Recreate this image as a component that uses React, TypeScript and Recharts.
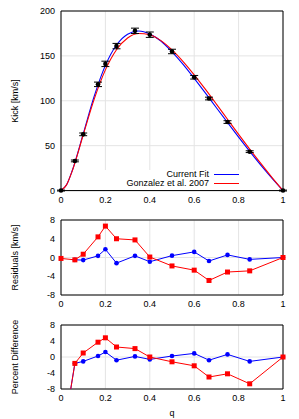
import React from "react";
import {
  ComposedChart,
  Line,
  Scatter,
  ErrorBar,
  CartesianGrid,
  XAxis,
  YAxis,
  ReferenceArea
} from "recharts";

// model curves, sampled on qGrid
const qGrid = [0, 0.025, 0.05, 0.1, 0.15, 0.2, 0.25, 0.3, 0.35, 0.4, 0.45, 0.5, 0.55, 0.6, 0.65, 0.7, 0.75, 0.8, 0.85, 0.9, 0.95, 1];
const fitKick = [0, 6.4, 21.8, 63.1, 105.4, 139.4, 162.1, 174.2, 177.8, 174.5, 166.6, 154.5, 140.6, 125.0, 108.8, 92.2, 75.8, 59.5, 43.7, 28.4, 13.9, 0];
const gonzalezKick = [0, 6.3, 21.4, 61.9, 102.1, 134.4, 156.9, 170.0, 175.0, 173.5, 167.0, 156.7, 143.7, 128.9, 112.9, 96.3, 79.4, 62.6, 46.2, 30.2, 14.7, 0];

// simulation points
const qSim = [0, 0.0625, 0.1, 0.1667, 0.2, 0.25, 0.3333, 0.4, 0.5, 0.6, 0.6667, 0.75, 0.85, 1];
const simKick = [0, 33, 62.6, 118.3, 141.1, 160.9, 177.9, 173.6, 154.9, 126.2, 102.5, 76.3, 43.3, 0];
const simErr = [0.5, 1, 1.5, 2.5, 3, 3, 3, 3, 2.5, 2, 1.5, 1.5, 1, 0.5];

// residuals [km/s]
const qResFit = [0.0625, 0.1, 0.1667, 0.2, 0.25, 0.3333, 0.4, 0.5, 0.6, 0.6667, 0.75, 0.85, 1];
const resFit = [-0.5, -0.55, 0.35, 1.75, -1.2, 0.35, -0.9, 0.4, 1.2, -0.75, 0.55, -0.4, 0];
const resGonzalez = [-0.2, -0.5, 0.7, 4.4, 6.7, 4.0, 3.75, 0.1, -1.8, -2.7, -4.9, -3.1, -2.85, 0];

// percent difference
const pctFit = [-23, -1.6, -1.1, 0.25, 1.25, -0.8, 0.15, -0.6, 0.25, 0.9, -0.8, 0.65, -1.1, 0];
const pctGonzalez = [-23, -1.6, 1.0, 3.7, 4.8, 2.5, 2.1, 0, -1.2, -2.2, -5.0, -4.2, -6.7, 0];

const qTicks = [0, 0.2, 0.4, 0.6, 0.8, 1];
const kickTicks = [0, 50, 100, 150, 200];
const resTicks = [-8, -4, 0, 4, 8];

const BLUE = "#0000ff";
const RED = "#ff0000";
const GRID = "#e4e4e4";
const FONT = "'Liberation Sans', Arial, sans-serif";
const tickStyle = { fill: "#000", fontSize: 9, fontFamily: FONT };

const zip = (xs: number[], ys: number[]) => xs.map((q, i) => ({ q, v: ys[i] }));

const fitData = zip(qGrid, fitKick);
const gonzalezData = zip(qGrid, gonzalezKick);
const simData = qSim.map((q, i) => ({ q, v: simKick[i], err: simErr[i] }));
const resFitData = zip(qResFit, resFit);
const resGonzalezData = zip(qSim, resGonzalez);
const pctFitData = zip(qSim, pctFit);
const pctGonzalezData = zip(qSim, pctGonzalez);

function SideLabel(props: any) {
  const { viewBox, text } = props;
  const cy = viewBox.y + viewBox.height / 2;
  return (
    <text
      x={15}
      y={cy}
      transform={`rotate(-90, 15, ${cy})`}
      textAnchor="middle"
      dominantBaseline="central"
      fontSize={9}
      fontFamily={FONT}
      fill="#000"
    >
      {text}
    </text>
  );
}

const square = (props: any) => {
  const { cx, cy, key } = props;
  if (cx == null || cy == null) return <g key={key} />;
  return <rect key={key} x={cx - 2.5} y={cy - 2.5} width={5} height={5} fill={RED} />;
};

const blueDot = (props: any) => {
  const { cx, cy, key } = props;
  if (cx == null || cy == null) return <g key={key} />;
  return <circle key={key} cx={cx} cy={cy} r={2.3} fill={BLUE} />;
};

function LegendBox() {
  const row = (label: string, color: string) => (
    <div style={{ display: "flex", alignItems: "center", justifyContent: "flex-end", height: 9 }}>
      <span style={{ fontSize: 9, fontFamily: FONT, color: "#000", lineHeight: "9px", whiteSpace: "nowrap" }}>{label}</span>
      <span style={{ display: "inline-block", width: 25, height: 1.5, background: color, marginLeft: 5 }} />
    </div>
  );
  return (
    <div style={{ position: "absolute", left: 89, top: 170, width: 150 }}>
      {row("Current Fit", BLUE)}
      {row("Gonzalez et al. 2007", RED)}
    </div>
  );
}

function Frame({ y1, y2 }: { y1: number; y2: number }) {
  return <ReferenceArea x1={0} x2={1} y1={y1} y2={y2} fill="none" stroke="#000" strokeWidth={1} />;
}

export default function App() {
  return (
    <div style={{ position: "fixed", left: 0, top: 0, width: 299, height: 419, background: "#fff" }}>
      <div style={{ position: "absolute", left: 0, top: 0 }}>
        <ComposedChart width={299} height={210} margin={{ top: 11, right: 16, left: 0, bottom: 0 }}>
          <CartesianGrid stroke={GRID} />
          <XAxis dataKey="q" type="number" domain={[0, 1]} ticks={qTicks} height={19}
            tick={tickStyle} tickLine={false} axisLine={false} tickSize={4} tickMargin={2} />
          <YAxis type="number" domain={[0, 200]} ticks={kickTicks} width={61}
            tick={tickStyle} tickLine={false} axisLine={false} tickSize={4} tickMargin={2}
            label={(p: any) => <SideLabel {...p} text="Kick [km/s]" />} />
          {/* key background: hides the grid under the legend */}
          <ReferenceArea x1={0.17} x2={1} y1={0} y2={23} fill="#fff" fillOpacity={1} stroke="none" />
          <Frame y1={0} y2={200} />
          <Line data={fitData} dataKey="v" type="monotone" stroke={BLUE} strokeWidth={1.1} dot={false} isAnimationActive={false} />
          <Line data={gonzalezData} dataKey="v" type="monotone" stroke={RED} strokeWidth={1.1} dot={false} isAnimationActive={false} />
          <Scatter data={simData} dataKey="v" fill="#000" isAnimationActive={false}
            shape={(p: any) => <circle cx={p.cx} cy={p.cy} r={2.3} fill="#000" />}>
            <ErrorBar dataKey="err" direction="y" width={4} stroke="#000" strokeWidth={1} />
          </Scatter>
        </ComposedChart>
        <LegendBox />
      </div>

      <div style={{ position: "absolute", left: 0, top: 205 }}>
        <ComposedChart width={299} height={110} margin={{ top: 15, right: 16, left: 0, bottom: 0 }}>
          <CartesianGrid stroke={GRID} />
          <XAxis dataKey="q" type="number" domain={[0, 1]} ticks={qTicks} height={20}
            tick={tickStyle} tickLine={false} axisLine={false} tickSize={4} tickMargin={2} />
          <YAxis type="number" domain={[-8, 8]} ticks={resTicks} width={61} allowDataOverflow
            tick={tickStyle} tickLine={false} axisLine={false} tickSize={4} tickMargin={2}
            label={(p: any) => <SideLabel {...p} text="Residuals [km/s]" />} />
          <Frame y1={-8} y2={8} />
          <Line data={resFitData} dataKey="v" stroke={BLUE} strokeWidth={1} dot={blueDot} isAnimationActive={false} />
          <Line data={resGonzalezData} dataKey="v" stroke={RED} strokeWidth={1} dot={square} isAnimationActive={false} />
        </ComposedChart>
      </div>

      <div style={{ position: "absolute", left: 0, top: 310 }}>
        <ComposedChart width={299} height={109} margin={{ top: 15, right: 16, left: 0, bottom: 0 }}>
          <CartesianGrid stroke={GRID} />
          <XAxis dataKey="q" type="number" domain={[0, 1]} ticks={qTicks} height={30}
            tick={tickStyle} tickLine={false} axisLine={false} tickSize={4} tickMargin={2}
            label={{ value: "q", position: "insideBottom", offset: 3, fontSize: 9, fontFamily: FONT, fill: "#000" }} />
          <YAxis type="number" domain={[-8, 8]} ticks={resTicks} width={61} allowDataOverflow
            tick={tickStyle} tickLine={false} axisLine={false} tickSize={4} tickMargin={2}
            label={(p: any) => <SideLabel {...p} text="Percent Difference" />} />
          <Frame y1={-8} y2={8} />
          <Line data={pctFitData} dataKey="v" stroke={BLUE} strokeWidth={1} dot={blueDot} isAnimationActive={false} />
          <Line data={pctGonzalezData} dataKey="v" stroke={RED} strokeWidth={1} dot={square} isAnimationActive={false} />
        </ComposedChart>
      </div>
    </div>
  );
}
